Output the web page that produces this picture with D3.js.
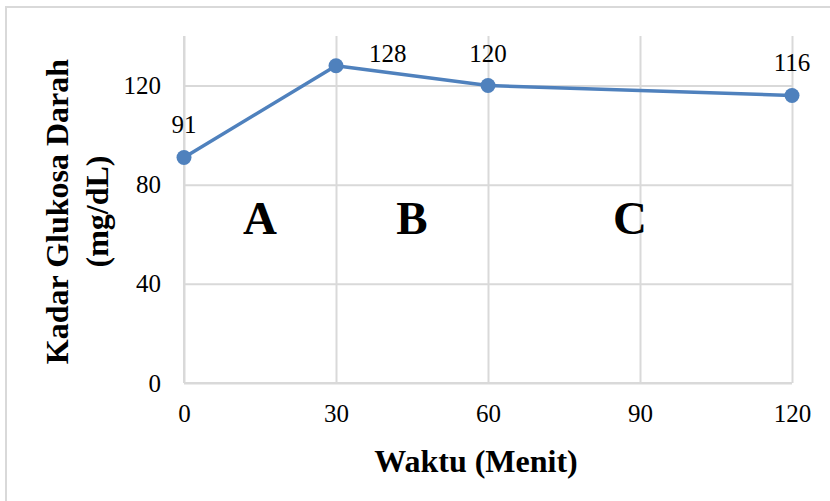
<!DOCTYPE html>
<html>
<head>
<meta charset="utf-8">
<script src="https://cdn.jsdelivr.net/npm/d3@7"></script>
<style>
  html, body { margin: 0; padding: 0; background: #fff; }
  svg { display: block; }
  text { font-family: "Liberation Serif", "Times New Roman", serif; fill: #000; }
</style>
</head>
<body>
<svg id="chart" width="830" height="501"></svg>
<script>
// Data
const waktu = [0, 30, 60, 120];
const glukosa = [91, 128, 120, 116];
const labelPos = ["above", "right", "above", "above"];
const xTicks = [0, 30, 60, 90, 120];
const yTicks = [0, 40, 80, 120];
const regionLabels = ["A", "B", "C"];
const regionX = [15, 45, 88];
const regionY = 60;
const xTitle = "Waktu (Menit)";
const yTitleLines = ["Kadar Glukosa Darah", "(mg/dL)"];

(function () {
const svg = d3.select("#chart");
const pL = 184, pR = 792, pT = 36, pB = 383;
const grid = "#d9d9d9";
const blue = "#4f81bd";
const serif = '"Liberation Serif", "Times New Roman", serif';

// outer border
svg.append("rect").attr("x", 6).attr("y", 7).attr("width", 840).attr("height", 510)
  .attr("fill", "none").attr("stroke", grid).attr("stroke-width", 2);

const x = d3.scaleLinear().domain([0, 120]).range([pL, pR]);
const y = d3.scaleLinear().domain([0, 140]).range([pB, pT]);

// horizontal gridlines
svg.append("g").attr("transform", `translate(${pL},0)`)
  .call(d3.axisLeft(y).tickValues(yTicks).tickSize(-(pR - pL)).tickFormat(""))
  .call(g => g.select(".domain").remove())
  .call(g => g.selectAll("line").attr("stroke", grid).attr("stroke-width", 2));

// vertical gridlines
svg.append("g").attr("transform", `translate(0,${pB})`)
  .call(d3.axisBottom(x).tickValues(xTicks).tickSize(-(pB - pT)).tickFormat(""))
  .call(g => g.select(".domain").remove())
  .call(g => g.selectAll("line").attr("stroke", grid).attr("stroke-width", 2));

// y tick labels
svg.append("g").attr("transform", `translate(${pL},0)`)
  .call(d3.axisLeft(y).tickValues(yTicks).tickSize(0).tickPadding(23))
  .call(g => g.select(".domain").remove())
  .call(g => g.selectAll("text").style("font-family", serif)
    .style("font-size", "25px").attr("fill", "#000"));

// x tick labels
svg.append("g").attr("transform", `translate(0,${pB})`)
  .call(d3.axisBottom(x).tickValues(xTicks).tickSize(0).tickPadding(21))
  .call(g => g.select(".domain").remove())
  .call(g => g.selectAll("text").style("font-family", serif)
    .style("font-size", "25px").attr("fill", "#000"));

// axis lines (same light gray)
svg.append("line").attr("x1", pL).attr("x2", pL).attr("y1", pT).attr("y2", pB)
  .attr("stroke", grid).attr("stroke-width", 2);
svg.append("line").attr("x1", pL).attr("x2", pR).attr("y1", pB).attr("y2", pB)
  .attr("stroke", grid).attr("stroke-width", 2);

// region labels
svg.selectAll(".region").data(regionLabels).join("text")
  .attr("x", (d, i) => x(regionX[i])).attr("y", y(regionY))
  .attr("text-anchor", "middle")
  .style("font-family", serif)
  .style("font-size", "47px").style("font-weight", "bold")
  .text(d => d);

// line
const pts = waktu.map((w, i) => ({ w, g: glukosa[i], pos: labelPos[i] }));
svg.append("path").datum(pts)
  .attr("d", d3.line().x(d => x(d.w)).y(d => y(d.g)))
  .attr("fill", "none").attr("stroke", blue).attr("stroke-width", 3.5)
  .attr("stroke-linejoin", "round");

svg.selectAll(".pt").data(pts).join("circle")
  .attr("cx", d => x(d.w)).attr("cy", d => y(d.g)).attr("r", 7.5).attr("fill", blue);

// data labels
svg.selectAll(".lbl").data(pts).join("text")
  .attr("x", d => d.pos === "right" ? x(d.w) + 33 : x(d.w))
  .attr("y", d => d.pos === "right" ? y(d.g) - 4 : y(d.g) - 24)
  .attr("text-anchor", d => d.pos === "right" ? "start" : "middle")
  .style("font-family", serif)
  .style("font-size", "25px")
  .text(d => d.g);

// axis titles
svg.append("text").attr("x", (pL + pR) / 2 - 12).attr("y", 472)
  .attr("text-anchor", "middle")
  .style("font-family", serif).style("font-size", "32px").style("font-weight", "bold")
  .text(xTitle);

const yt = svg.append("text")
  .attr("transform", `translate(68,${(pT + pB) / 2 + 2}) rotate(-90)`)
  .attr("text-anchor", "middle")
  .style("font-family", serif).style("font-size", "32px").style("font-weight", "bold");
yTitleLines.forEach((t, i) => {
  yt.append("tspan").attr("x", 0).attr("dy", i === 0 ? 0 : 40).text(t);
});
})();
</script>
</body>
</html>
